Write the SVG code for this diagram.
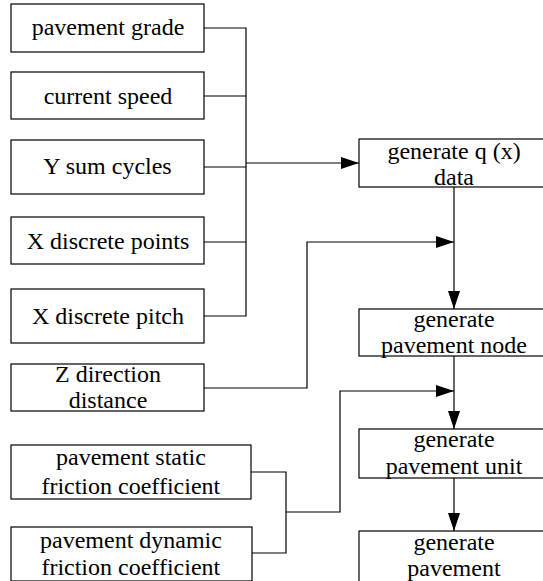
<svg xmlns="http://www.w3.org/2000/svg" width="543" height="581" viewBox="0 0 543 581">
<style>
rect{fill:#fff;stroke:#000;stroke-width:1.2}
.c path{fill:none;stroke:#000;stroke-width:1.2}
</style>
<defs>
<marker id="ah" markerUnits="userSpaceOnUse" markerWidth="18" markerHeight="12" refX="18" refY="6" orient="auto">
<path d="M0,0 L18,6 L0,12 z" fill="#000"/>
</marker>
</defs>
<g id="n1"><rect x="11" y="4" width="193" height="48"/><text font-family="Liberation Serif, serif" font-size="24" x="31.7" y="35">pavement grade</text></g>
<g id="n2"><rect x="11" y="72" width="193" height="47"/><text font-family="Liberation Serif, serif" font-size="24" x="43.7" y="104">current speed</text></g>
<g id="n3"><rect x="11" y="140" width="193" height="54"/><text font-family="Liberation Serif, serif" font-size="24" x="43.3" y="174">Y sum cycles</text></g>
<g id="n4"><rect x="11" y="217" width="193" height="47"/><text font-family="Liberation Serif, serif" font-size="24" x="26.7" y="249">X discrete points</text></g>
<g id="n5"><rect x="11" y="289" width="193" height="54"/><text font-family="Liberation Serif, serif" font-size="24" x="32" y="324">X discrete pitch</text></g>
<g id="n6"><rect x="11" y="364" width="193" height="47"/><text font-family="Liberation Serif, serif" font-size="24" x="55" y="382">Z direction</text><text font-family="Liberation Serif, serif" font-size="24" x="68.7" y="408">distance</text></g>
<g id="n7"><rect x="11" y="445" width="240" height="54"/><text font-family="Liberation Serif, serif" font-size="24" x="56" y="465">pavement static</text><text font-family="Liberation Serif, serif" font-size="24" x="41.4" y="494">friction coefficient</text></g>
<g id="n8"><rect x="11" y="527" width="241" height="54"/><text font-family="Liberation Serif, serif" font-size="24" x="40" y="548">pavement dynamic</text><text font-family="Liberation Serif, serif" font-size="24" x="41.4" y="575">friction coefficient</text></g>
<g id="g1"><rect x="359" y="139" width="190" height="48"/><text font-family="Liberation Serif, serif" font-size="24" x="387.4" y="159">generate q (x)</text><text font-family="Liberation Serif, serif" font-size="24" x="434" y="185">data</text></g>
<g id="g2"><rect x="359" y="309" width="190" height="47"/><text font-family="Liberation Serif, serif" font-size="24" x="413.4" y="327">generate</text><text font-family="Liberation Serif, serif" font-size="24" x="381" y="353">pavement node</text></g>
<g id="g3"><rect x="359" y="429" width="190" height="49"/><text font-family="Liberation Serif, serif" font-size="24" x="413.4" y="447">generate</text><text font-family="Liberation Serif, serif" font-size="24" x="385.7" y="474">pavement unit</text></g>
<g id="g4"><rect x="359" y="531" width="190" height="55"/><text font-family="Liberation Serif, serif" font-size="24" x="413.4" y="550">generate</text><text font-family="Liberation Serif, serif" font-size="24" x="407.3" y="576">pavement</text></g>
<g class="c" id="connectors">
<path d="M204,28 H246 V316 H204"/>
<path d="M204,96 H246"/>
<path d="M204,167 H246"/>
<path d="M204,242 H246"/>
<path d="M246,163 H359" marker-end="url(#ah)"/>
<path d="M454,187 V309" marker-end="url(#ah)"/>
<path d="M204,388 H307 V242 H454" marker-end="url(#ah)"/>
<path d="M454,356 V429" marker-end="url(#ah)"/>
<path d="M251,472 H286 V553 H252"/>
<path d="M286,512 H340 V391 H454" marker-end="url(#ah)"/>
<path d="M454,478 V531" marker-end="url(#ah)"/>
</g>
</svg>
